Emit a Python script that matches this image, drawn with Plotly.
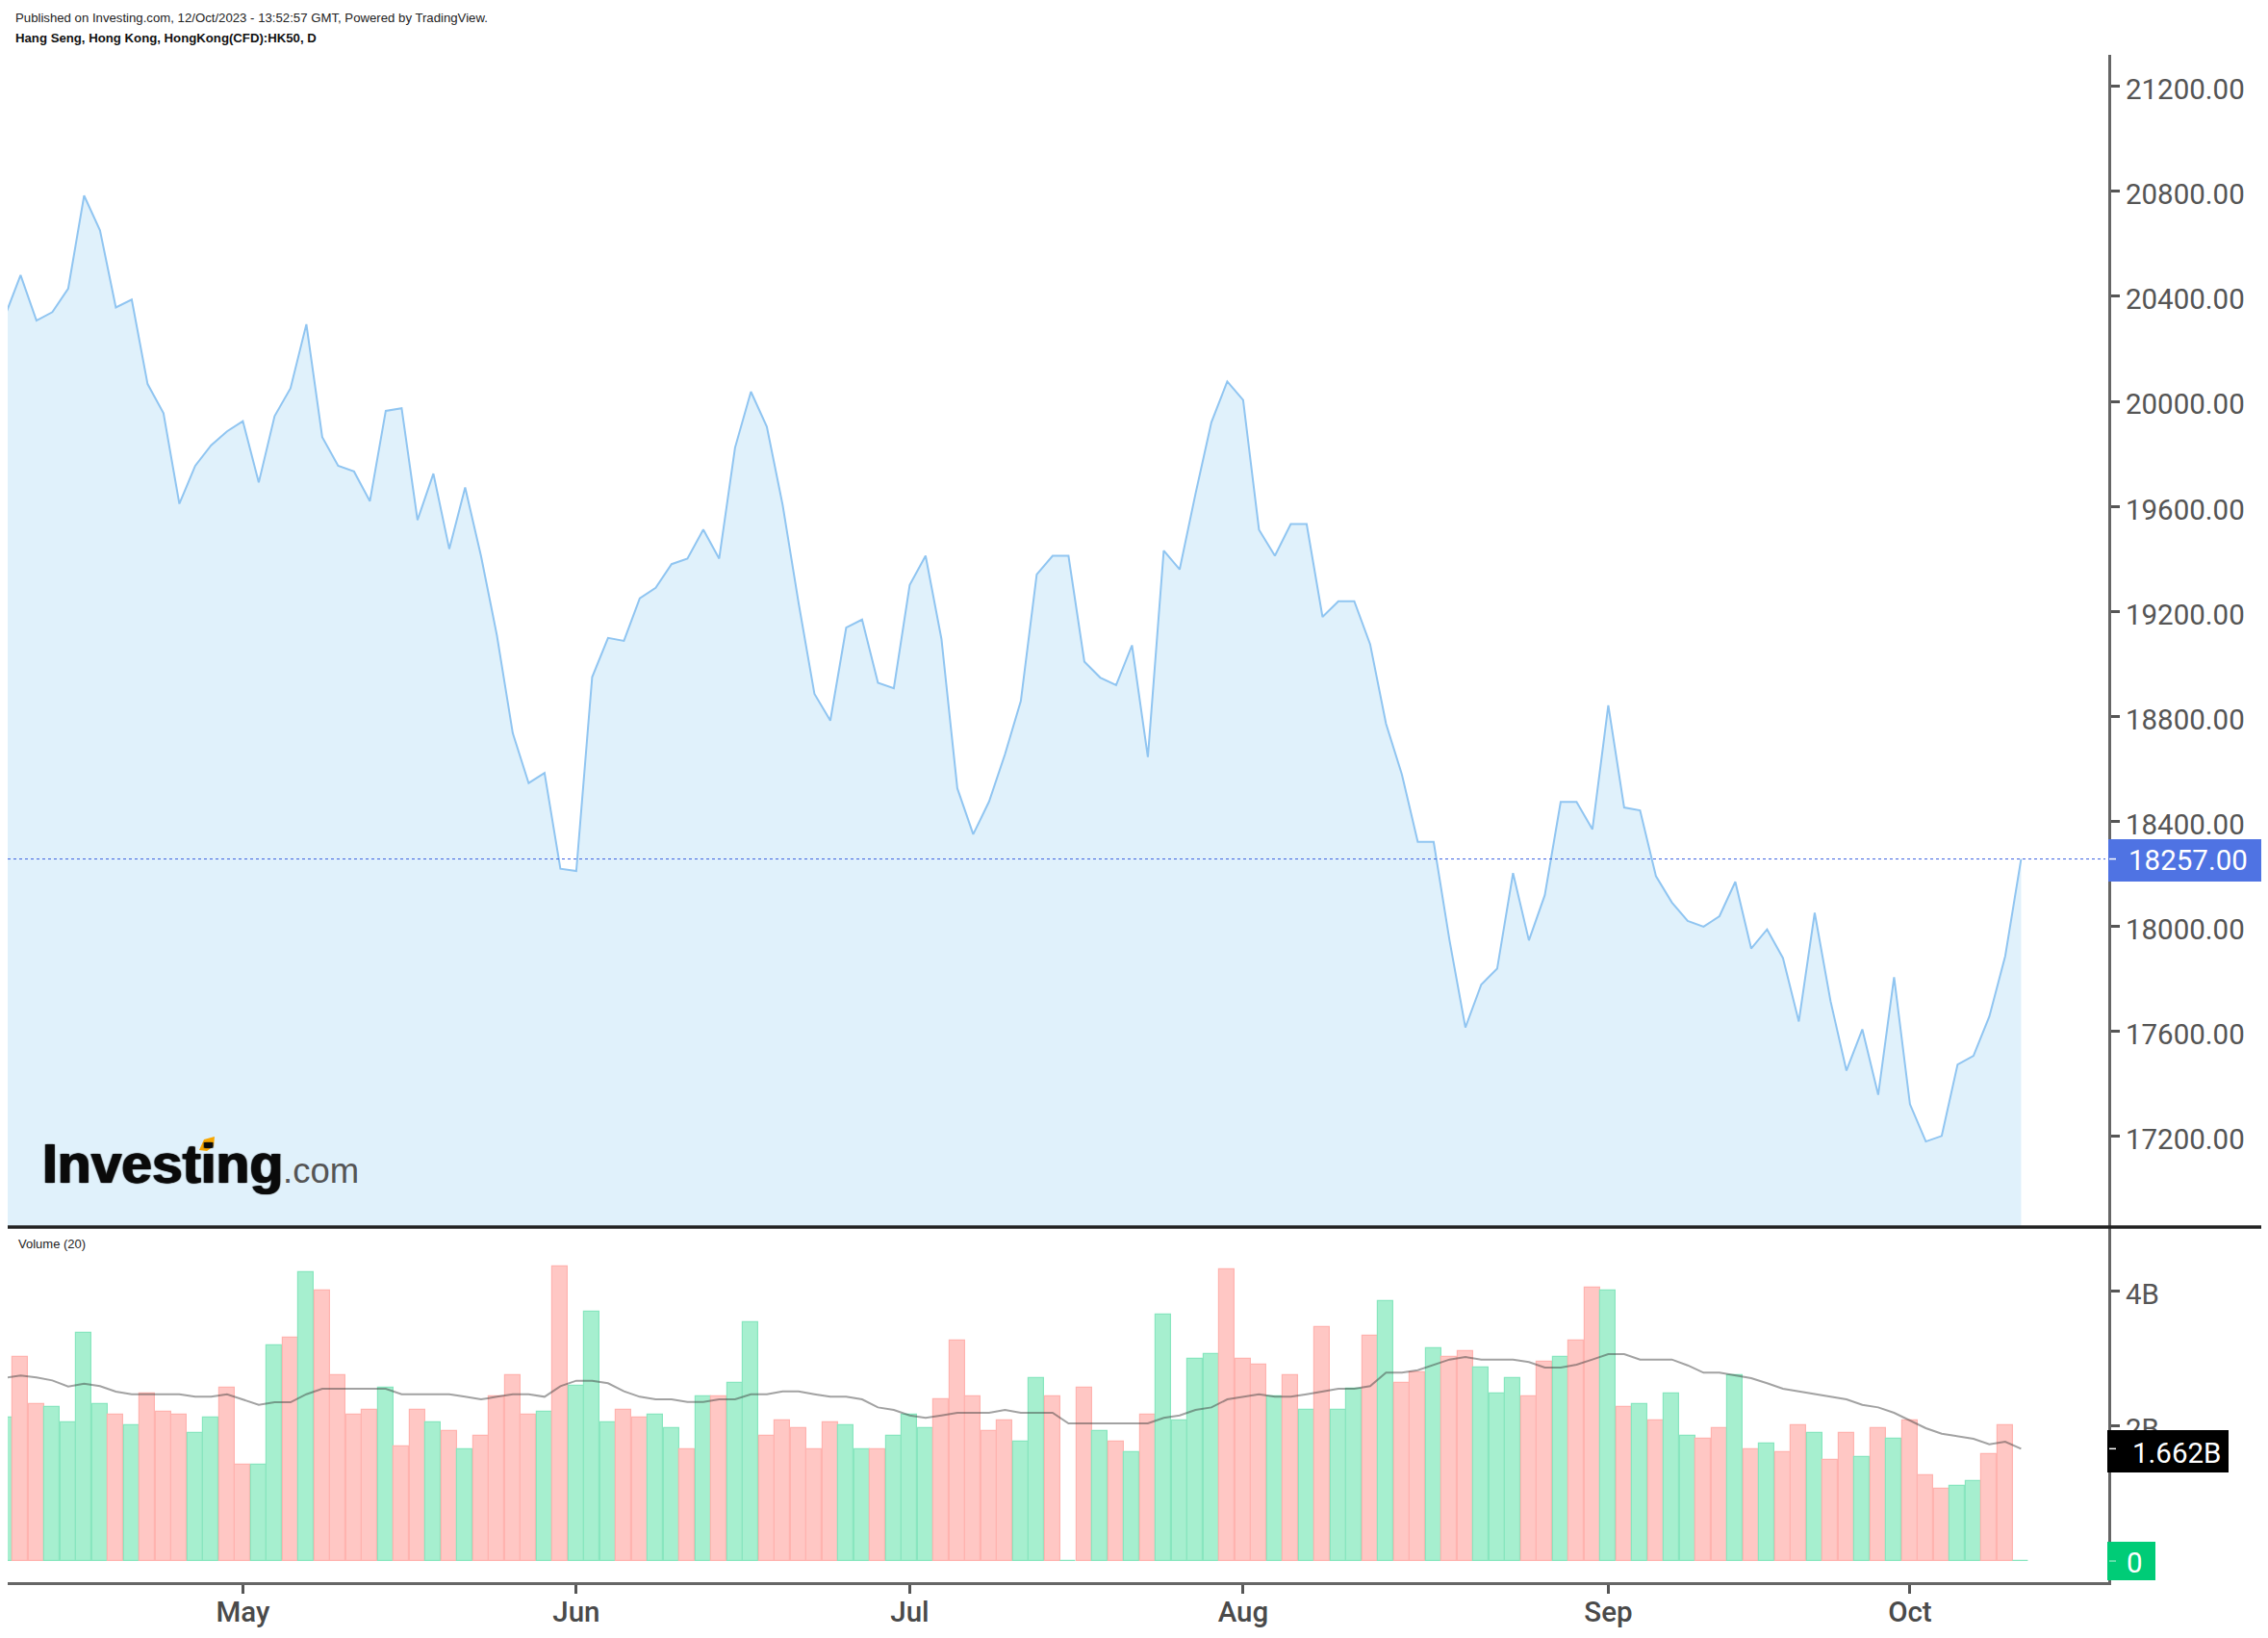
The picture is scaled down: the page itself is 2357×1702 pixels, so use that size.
# Hang Seng daily area chart with volume panel (Investing.com / TradingView look)

import plotly.graph_objects as go

# %% --------------------------------------------------------------------
# Values

close = [
    20323, 20481, 20308, 20340, 20430, 20784, 20652, 20358, 20388, 20066,
    19955, 19610, 19755, 19833, 19886, 19925, 19691, 19944, 20050, 20294,
    19864, 19755, 19733, 19620, 19964, 19974, 19548, 19725, 19438, 19672,
    19411, 19109, 18736, 18546, 18585, 18220, 18211, 18950, 19099, 19088,
    19250, 19290, 19380, 19401, 19512, 19401, 19824, 20037, 19904, 19605,
    19233, 18886, 18784, 19138, 19169, 18928, 18907, 19301, 19412, 19095,
    18526, 18351, 18476, 18656, 18859, 19341, 19412, 19412, 19009, 18948,
    18919, 19071, 18645, 19432, 19360, 19648, 19920, 20076, 20005, 19511,
    19412, 19533, 19533, 19179, 19239, 19239, 19075, 18772, 18579, 18322,
    18322, 17947, 17615, 17779, 17839, 18203, 17947, 18119, 18474, 18474,
    18370, 18842, 18453, 18442, 18192, 18092, 18021, 17999, 18039, 18170,
    17916, 17989, 17880, 17638, 18052, 17715, 17451, 17608, 17359, 17807,
    17323, 17181, 17202, 17474, 17507, 17657, 17887, 18257,
]

volume = [
    2.127, 3.025, 2.322, 2.284, 2.047, 3.381, 2.322, 2.165, 2.009, 2.479,
    2.203, 2.165, 1.895, 2.127, 2.559, 1.420, 1.420, 3.186, 3.300, 4.278,
    4.008, 2.754, 2.165, 2.241, 2.559, 1.695, 2.241, 2.047, 1.928, 1.652,
    1.852, 2.441, 2.754, 2.165, 2.203, 4.359, 2.593, 3.694, 2.047, 2.241,
    2.127, 2.165, 1.966, 1.652, 2.441, 2.441, 2.635, 3.538, 1.852, 2.085,
    1.966, 1.652, 2.047, 2.009, 1.652, 1.652, 1.852, 2.165, 1.966, 2.398,
    3.262, 2.441, 1.928, 2.085, 1.771, 2.711, 2.441, 0, 2.559, 1.928,
    1.771, 1.614, 2.165, 3.651, 2.085, 2.987, 3.067, 4.316, 2.987, 2.911,
    2.441, 2.749, 2.241, 3.457, 2.241, 2.555, 3.338, 3.851, 2.635, 2.792,
    3.143, 3.025, 3.105, 2.868, 2.479, 2.711, 2.441, 2.949, 3.025, 3.262,
    4.046, 4.008, 2.284, 2.322, 2.085, 2.479, 1.852, 1.814, 1.966, 2.749,
    1.652, 1.733, 1.614, 2.009, 1.890, 1.500, 1.890, 1.538, 1.966, 1.809,
    2.085, 1.263, 1.068, 1.106, 1.187, 1.576, 2.009, 0,
]

# g = green bar, r = red bar, 20 bars per chunk
volume_side = list(
    "grrggggrgrrrggrrggrg"
    "rrrrgrrgrgrrrrgrgggr"
    "rggrgrggrrrrrggrgggr"
    "rrrrggrgrgrgrggggrrr"
    "grgrggrgrrgrrgggrrgr"
    "rgrgrggrrgrgrrgrrgrg"
    "rrrggrrg"
)

volume_ma = [
    2.711, 2.745, 2.716, 2.673, 2.583, 2.626, 2.588, 2.507, 2.469, 2.469,
    2.469, 2.469, 2.431, 2.431, 2.469, 2.393, 2.312, 2.350, 2.350, 2.469,
    2.550, 2.550, 2.550, 2.550, 2.550, 2.469, 2.469, 2.469, 2.469, 2.431,
    2.393, 2.431, 2.469, 2.469, 2.431, 2.588, 2.669, 2.669, 2.631, 2.512,
    2.431, 2.393, 2.393, 2.355, 2.355, 2.393, 2.393, 2.469, 2.469, 2.512,
    2.512, 2.469, 2.431, 2.431, 2.393, 2.274, 2.236, 2.156, 2.118, 2.156,
    2.194, 2.194, 2.194, 2.236, 2.194, 2.194, 2.194, 2.037, 2.037, 2.037,
    2.037, 2.037, 2.037, 2.118, 2.156, 2.236, 2.274, 2.393, 2.431, 2.469,
    2.431, 2.431, 2.469, 2.507, 2.550, 2.550, 2.588, 2.787, 2.787, 2.825,
    2.906, 2.982, 3.020, 2.982, 2.982, 2.982, 2.944, 2.863, 2.863, 2.906,
    2.982, 3.063, 3.063, 2.982, 2.982, 2.982, 2.896, 2.787, 2.787, 2.749,
    2.707, 2.631, 2.550, 2.512, 2.469, 2.431, 2.393, 2.312, 2.274, 2.194,
    2.085, 1.966, 1.885, 1.847, 1.809, 1.728, 1.766, 1.662,
]

month_index = [15, 36, 57, 78, 101, 120]
month_labels = ["May", "Jun", "Jul", "Aug", "Sep", "Oct"]
price_ticks = [17200, 17600, 18000, 18400, 18800, 19200, 19600, 20000, 20400, 20800, 21200]
volume_ticks = [0, 2, 4]
volume_tick_labels = ["", "2B", "4B"]

# %% --------------------------------------------------------------------
# Page geometry in pixels

W, H = 2357, 1702
LEFT, RIGHT = 8, 2191
TOP, SPLIT, BOTTOM = 57, 1275, 1644


def px(x):
    return x / W


def py(y):
    return 1 - y / H


bar_colors = {"g": "#a6efcf", "r": "#ffc7c4"}
edge_colors = {"g": "#88e6bf", "r": "#ffb3af"}
days = list(range(len(close)))

fig = go.Figure()

fig.add_trace(go.Scatter(
    x=days, y=close, mode="lines", yaxis="y",
    line=dict(color="#90c5f1", width=2),
    fill="tozeroy", fillcolor="#e0f1fb",
))

fig.add_trace(go.Bar(
    x=days, y=volume, yaxis="y2", width=0.96,
    marker=dict(
        color=[bar_colors[s] for s in volume_side],
        line=dict(color=[edge_colors[s] for s in volume_side], width=1.2),
    ),
))

fig.add_trace(go.Scatter(
    x=days, y=volume_ma, mode="lines", yaxis="y2",
    line=dict(color="rgba(60,60,60,0.48)", width=2),
))

# %% --------------------------------------------------------------------
# Price tag boxes on the right axis, plus separators

BLUE, BLACK, GREEN = "#4f73e3", "#000000", "#00cc77"
shapes = [
    # last price dotted line
    dict(type="line", xref="paper", yref="y", x0=px(LEFT), x1=px(2188),
         y0=close[-1], y1=close[-1], line=dict(color="#3f63e0", width=1, dash="dot")),
    # panel separator
    dict(type="line", xref="paper", yref="paper", x0=px(LEFT), x1=px(2350),
         y0=py(SPLIT), y1=py(SPLIT), line=dict(color="#222222", width=3.5)),
    dict(type="rect", xref="paper", yref="paper", x0=px(2191), x1=px(2350),
         y0=py(916), y1=py(872), fillcolor=BLUE, line_width=0, layer="above"),
    dict(type="rect", xref="paper", yref="paper", x0=px(2190), x1=px(2316),
         y0=py(1530), y1=py(1486), fillcolor=BLACK, line_width=0, layer="above"),
    dict(type="rect", xref="paper", yref="paper", x0=px(2190), x1=px(2240),
         y0=py(1642), y1=py(1602), fillcolor=GREEN, line_width=0, layer="above"),
    # small white ticks on the tags
    dict(type="line", xref="paper", yref="y", x0=px(2192), x1=px(2199),
         y0=close[-1], y1=close[-1], line=dict(color="white", width=1.5)),
    dict(type="line", xref="paper", yref="y2", x0=px(2192), x1=px(2199),
         y0=volume_ma[-1], y1=volume_ma[-1], line=dict(color="white", width=1.5)),
    dict(type="line", xref="paper", yref="y2", x0=px(2192), x1=px(2199),
         y0=0, y1=0, line=dict(color="#7fe3b8", width=1.5)),
]


def label(x, y, text, size, color="#000000", family="Liberation Sans", weight=400, **font_extra):
    return dict(xref="paper", yref="paper", x=px(x), y=py(y), text=text, showarrow=False,
                xanchor="left", yanchor="middle", borderpad=0,
                font=dict(family=family, size=size, color=color, weight=weight, **font_extra))


annotations = [
    label(15, 18, "Published on Investing.com, 12/Oct/2023 - 13:52:57 GMT, Powered by TradingView.", 13.2, "#222222"),
    label(15, 40, "Hang Seng, Hong Kong, HongKong(CFD):HK50, D", 13.2, "#111111", weight=700),
    label(18, 1292, "Volume (20)", 13, "#222222"),
    label(2211, 894, f"{close[-1]:.2f}", 29.5, "white", "Roboto"),
    label(2215, 1510, f"{volume_ma[-1]:.3f}B", 29.5, "white", "Roboto"),
    label(2209, 1624, "0", 29.5, "white", "Roboto"),
    label(43, 1209, "Investing", 57, "#0a0a0a", weight=700,
          shadow="1px 0 1px #0a0a0a, -1px 0 1px #0a0a0a"),
    label(293, 1216, ".com", 36.5, "#555555"),
]

# orange dot of the logo, sits on the i of Investing
shapes.append(
    dict(type="path", xref="paper", yref="paper", fillcolor="#f7a600", line_width=0, layer="above",
         path=f"M {px(207)} {py(1195)} L {px(212)} {py(1184)} L {px(223)} {py(1181)} "
              f"L {px(222)} {py(1191)} L {px(215)} {py(1196)} Z")
)

# %% --------------------------------------------------------------------
# Axes, set so that one trading day is 16.5 px wide

tick_font = dict(family="Roboto", size=29.5, color="#555555")
axis_style = dict(side="right", showgrid=False, zeroline=False, showline=True,
                  linecolor="#666666", linewidth=3, ticks="outside", ticklen=9,
                  tickwidth=3, tickcolor="#555555", tickfont=tick_font,
                  ticklabelshift=3)

fig.update_layout(
    width=W,
    height=H,
    margin=dict(l=0, r=0, t=0, b=0),
    paper_bgcolor="white",
    plot_bgcolor="white",
    showlegend=False,
    bargap=0,
    shapes=shapes,
    annotations=annotations,
    xaxis=dict(
        domain=[px(LEFT), px(RIGHT)],
        range=[0.188, 132.49],
        anchor="y2",
        tickmode="array",
        tickvals=month_index,
        ticktext=month_labels,
        tickfont=dict(family="Roboto", size=29.5, color="#4a4a4a", weight=500),
        ticklabelstandoff=-6,
        ticks="outside",
        ticklen=9,
        tickwidth=3,
        tickcolor="#555555",
        showgrid=False,
        zeroline=False,
        showline=True,
        linecolor="#666666",
        linewidth=3,
    ),
    yaxis=dict(
        domain=[py(SPLIT), py(TOP)],
        range=[16855, 21320],
        anchor="x",
        tickmode="array",
        tickvals=price_ticks,
        ticktext=[f"{t:.2f}" for t in price_ticks],
        **axis_style,
    ),
    yaxis2=dict(
        domain=[py(BOTTOM), py(SPLIT)],
        range=[-0.313, 4.943],
        anchor="x",
        tickmode="array",
        tickvals=volume_ticks,
        ticktext=volume_tick_labels,
        **axis_style,
    ),
)

# browser's default body margin would push the figure 8 px off
fig.write_html("out.html", config=dict(displayModeBar=False),
               post_script="document.body.style.margin = '0';")
